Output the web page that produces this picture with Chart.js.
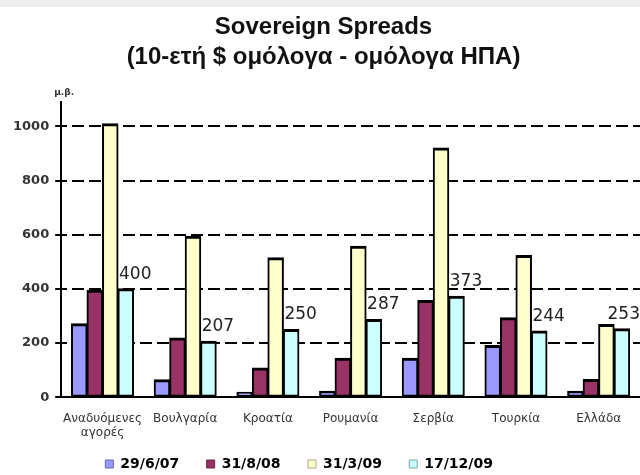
<!DOCTYPE html>
<html>
<head>
<meta charset="utf-8">
<title>Sovereign Spreads</title>
<script src="https://cdn.jsdelivr.net/npm/chart.js@4.4.1/dist/chart.umd.min.js"></script>
<style>
  html, body { margin: 0; padding: 0; background: #fff; }
  #wrap { position: relative; width: 640px; height: 475px; }
</style>
</head>
<body>
<div id="wrap"><canvas id="spreads"></canvas></div>
<script>
// spreads in basis points, 10y $ bonds vs US treasuries
const countries = [['Αναδυόμενες', 'αγορές'], 'Βουλγαρία', 'Κροατία', 'Ρουμανία', 'Σερβία', 'Τουρκία', 'Ελλάδα'];
const dates = ['29/6/07', '31/8/08', '31/3/09', '17/12/09'];
const jun07 = [271, 64, 18, 22, 144, 191, 22];
const aug08 = [395, 219, 108, 144, 357, 293, 65];
const mar09 = [1010, 594, 515, 557, 920, 523, 268];
const dec09 = [400, 207, 250, 287, 373, 244, 253];
const yMax = 1090;
const yStep = 200;

const fills = ['#9999ff', '#993366', '#ffffcc', '#ccffff'];
const legendEdges = ['#6666aa', '#662244', '#aaaa77', '#77aaaa'];

// light strip at the top of the page
const backdrop = {
    id: 'backdrop',
    beforeDraw(chart) {
        const ctx = chart.ctx;
        ctx.save();
        ctx.fillStyle = '#ffffff';
        ctx.fillRect(0, 0, chart.width, chart.height);
        ctx.fillStyle = '#eeeeee';
        ctx.fillRect(0, 0, chart.width, 7);
        ctx.restore();
    }
};

// unit caption above the y axis
const unitLabel = {
    id: 'unitLabel',
    afterDraw(chart) {
        const area = chart.chartArea;
        const ctx = chart.ctx;
        ctx.save();
        ctx.font = 'bold 9px "DejaVu Sans"';
        ctx.fillStyle = '#333';
        ctx.textAlign = 'center';
        ctx.textBaseline = 'middle';
        ctx.fillText('μ.β.', area.left + 3, area.top - 9);
        ctx.restore();
    }
};

// value labels for the latest date only
const lastValues = {
    id: 'lastValues',
    afterDatasetsDraw(chart) {
        const last = chart.data.datasets.length - 1;
        const meta = chart.getDatasetMeta(last);
        const values = chart.data.datasets[last].data;
        const ctx = chart.ctx;
        ctx.save();
        ctx.font = '17px "DejaVu Sans"';
        ctx.fillStyle = '#222';
        ctx.textAlign = 'left';
        ctx.textBaseline = 'alphabetic';
        meta.data.forEach((bar, i) => {
            const text = String(values[i]);
            const w = ctx.measureText(text).width;
            let x = bar.x - bar.width / 2 + 1;
            if (x + w > chart.width) x = chart.width - w;
            ctx.fillText(text, x, bar.y - 10);
        });
        ctx.restore();
    }
};

const series = [jun07, aug08, mar09, dec09];

new Chart(document.getElementById('spreads'), {
    type: 'bar',
    data: {
        labels: countries,
        datasets: series.map((values, i) => ({
            label: dates[i],
            data: values,
            backgroundColor: fills[i],
            borderColor: '#000',
            borderWidth: { top: 3, left: 2, right: 2, bottom: 2 },
            borderSkipped: false,
            inflateAmount: 0.5,
            categoryPercentage: 0.75,
            barPercentage: 1
        }))
    },
    options: {
        responsive: true,
        maintainAspectRatio: false,
        animation: false,
        layout: { padding: { left: 7, right: 0, top: 0, bottom: -6 } },
        plugins: {
            title: {
                display: true,
                text: ['Sovereign Spreads', '(10-ετή $ ομόλογα - ομόλογα ΗΠΑ)'],
                color: '#111',
                font: { family: '"Liberation Sans", Arial, sans-serif', size: 24, weight: 'bold', lineHeight: 1.25 },
                padding: { top: 12, bottom: 30 }
            },
            legend: {
                position: 'bottom',
                labels: {
                    color: '#222',
                    font: { family: '"DejaVu Sans"', size: 14, weight: 'bold' },
                    boxWidth: 8,
                    boxHeight: 8,
                    padding: 3,
                    generateLabels(chart) {
                        const n = chart.data.datasets.length;
                        return chart.data.datasets.map((ds, i) => ({
                            // trailing blanks keep the entries spread out
                            text: ds.label + (i === n - 1 ? '          ' : '     '),
                            fillStyle: fills[i],
                            strokeStyle: legendEdges[i],
                            lineWidth: 1,
                            datasetIndex: i
                        }));
                    }
                }
            },
            tooltip: { enabled: false }
        },
        scales: {
            x: {
                grid: { display: false, drawTicks: false },
                border: { display: true, color: '#000', width: 2 },
                ticks: {
                    color: '#333',
                    font: { family: '"DejaVu Sans"', size: 12 },
                    padding: 14,
                    maxRotation: 0,
                    autoSkip: false
                }
            },
            y: {
                min: 0,
                max: yMax,
                grid: {
                    color: '#000',
                    lineWidth: 2,
                    tickColor: '#000',
                    tickWidth: 2,
                    tickLength: 6
                },
                border: { display: true, color: '#000', width: 2, dash: [12, 5], dashOffset: -10 },
                ticks: {
                    stepSize: yStep,
                    includeBounds: false,
                    color: '#333',
                    font: { family: '"DejaVu Sans"', size: 13, weight: 'bold' },
                    padding: 6,
                    callback: value => String(value)
                }
            }
        }
    },
    plugins: [backdrop, unitLabel, lastValues]
});
</script>
</body>
</html>
